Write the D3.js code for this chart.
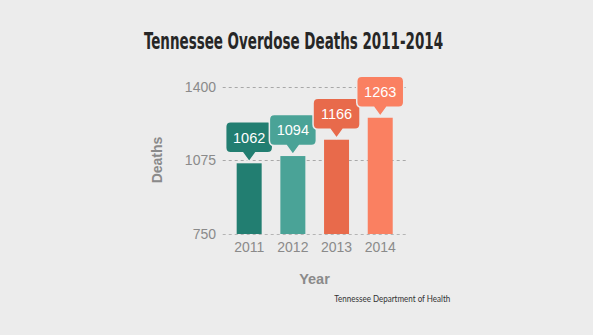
<!DOCTYPE html>
<html>
<head>
<meta charset="utf-8">
<script src="https://cdn.jsdelivr.net/npm/d3@7"></script>
<style>
  html, body { margin: 0; padding: 0; background: #ececec; }
  svg { display: block; }
</style>
</head>
<body>
<svg id="chart" width="593" height="335"></svg>
<script>
const years = ["2011", "2012", "2013", "2014"];
const deaths = [1062, 1094, 1166, 1263];
const yTicks = [750, 1075, 1400];
const barColors = ["#227e71", "#4aa397", "#e86a4b", "#fa8061"];
const title = "Tennessee Overdose Deaths 2011-2014";
const yTitle = "Deaths";
const xTitle = "Year";
const source = "Tennessee Department of Health";

const svg = d3.select("#chart");
const W = 593, H = 335;
svg.append("rect").attr("width", W).attr("height", H).attr("fill", "#ececec");

const x = d3.scaleBand().domain(years).range([222.7, 406.7])
  .paddingInner(0.428).paddingOuter(0.32);
const y = d3.scaleLinear().domain([750, 1400]).range([234, 86.7]);
const color = d3.scaleOrdinal().domain(years).range(barColors);

// title
svg.append("text")
  .attr("x", 144).attr("y", 49.3)
  .attr("textLength", 299).attr("lengthAdjust", "spacingAndGlyphs")
  .attr("font-family", "'Liberation Sans Narrow', 'DejaVu Sans Condensed', 'Roboto Condensed', sans-serif")
  .attr("font-weight", "bold")
  .attr("font-size", 22.5)
  .attr("fill", "#262626")
  .text(title);

// gridlines
const grid = svg.append("g");
grid.selectAll("line").data(yTicks.filter(t => t !== 750)).join("line")
  .attr("x1", 222.7).attr("x2", 406.7)
  .attr("y1", d => Math.round(y(d)) + 0.5).attr("y2", d => Math.round(y(d)) + 0.5)
  .attr("stroke", "#a8a8a8").attr("stroke-dasharray", "3,3").attr("stroke-width", 1);

// y axis tick labels
const yAxis = d3.axisLeft(y).tickValues(yTicks).tickFormat(d3.format("d")).tickSize(0).tickPadding(0);
const yg = svg.append("g").attr("transform", "translate(216,0)").call(yAxis);
yg.select(".domain").remove();
yg.selectAll("text")
  .attr("font-family", "'Liberation Sans', Arial, sans-serif")
  .attr("font-size", 14).attr("fill", "#8a8a8a");

// bars
svg.append("g").selectAll("rect").data(deaths).join("rect")
  .attr("x", (d, i) => x(years[i]))
  .attr("width", x.bandwidth())
  .attr("y", d => y(d))
  .attr("height", d => y(750) - y(d))
  .attr("fill", (d, i) => color(years[i]));

// bottom gridline on top of bars
svg.append("line")
  .attr("x1", 222.7).attr("x2", 406.7)
  .attr("y1", Math.round(y(750)) + 0.5).attr("y2", Math.round(y(750)) + 0.5)
  .attr("stroke", "#b4b4b4").attr("stroke-dasharray", "3,3").attr("stroke-width", 1);

// callouts
const bw = 47, bh = 31, ph = 9, pw = 13, gap = 1.5, r = 5;
const callouts = svg.append("g").selectAll("g").data(deaths).join("g")
  .attr("transform", (d, i) => `translate(${x(years[i]) + x.bandwidth() / 2},${y(d) - gap})`);
callouts.append("path")
  .attr("d", () => {
    const l = -bw / 2, rr = bw / 2, b = -ph, t = -ph - bh;
    return `M0,0 L${-pw / 2},${b} L${l + r},${b} Q${l},${b} ${l},${b - r} L${l},${t + r} Q${l},${t} ${l + r},${t} ` +
      `L${rr - r},${t} Q${rr},${t} ${rr},${t + r} L${rr},${b - r} Q${rr},${b} ${rr - r},${b} L${pw / 2},${b} Z`;
  })
  .attr("fill", (d, i) => color(years[i]))
  .attr("stroke", "#ececec").attr("stroke-width", 1.5);
callouts.append("text")
  .attr("x", 0).attr("y", -ph - bh / 2).attr("dy", "0.36em")
  .attr("text-anchor", "middle")
  .attr("font-family", "'Liberation Sans', Arial, sans-serif")
  .attr("font-size", 14.5).attr("fill", "#ffffff")
  .text(d => d);

// x axis labels
const xAxis = d3.axisBottom(x).tickSize(0).tickPadding(0);
const xg = svg.append("g").attr("transform", "translate(0,242)").call(xAxis);
xg.select(".domain").remove();
xg.selectAll("text")
  .attr("font-family", "'Liberation Sans', Arial, sans-serif")
  .attr("font-size", 14).attr("fill", "#8a8a8a");

// axis titles
svg.append("text")
  .attr("transform", "translate(161.5,160) rotate(-90)")
  .attr("text-anchor", "middle")
  .attr("font-family", "'Liberation Sans', Arial, sans-serif")
  .attr("font-weight", "bold").attr("font-size", 14).attr("fill", "#8a8a8a")
  .text(yTitle);
svg.append("text")
  .attr("x", 314.5).attr("y", 284)
  .attr("text-anchor", "middle")
  .attr("font-family", "'Liberation Sans', Arial, sans-serif")
  .attr("font-weight", "bold").attr("font-size", 14.5).attr("fill", "#8a8a8a")
  .text(xTitle);

// source
svg.append("text")
  .attr("x", 334.3).attr("y", 301.7)
  .attr("textLength", 116).attr("lengthAdjust", "spacingAndGlyphs")
  .attr("font-family", "Lato, 'Open Sans', sans-serif")
  .attr("font-size", 9.5).attr("fill", "#333333")
  .text(source);
</script>
</body>
</html>
